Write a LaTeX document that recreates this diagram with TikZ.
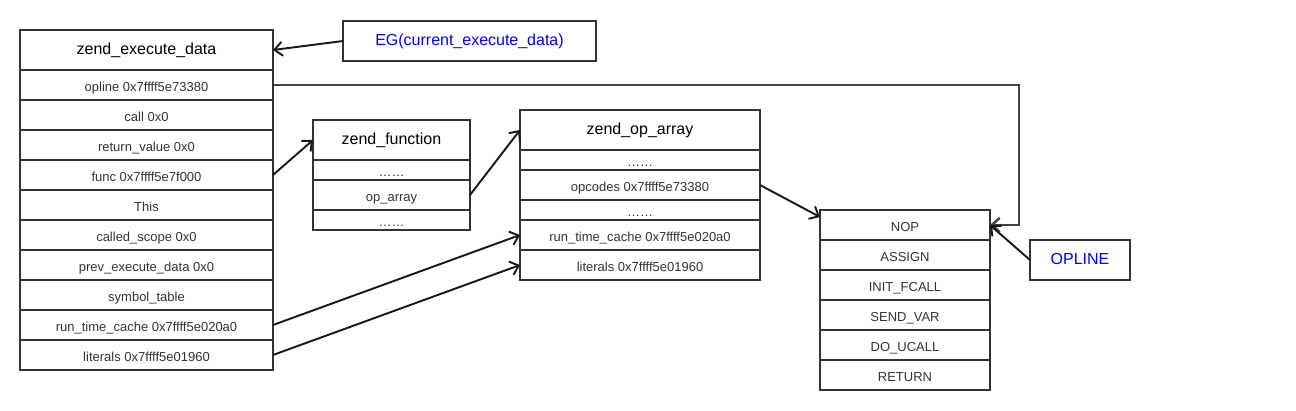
\documentclass[tikz,border=0pt]{standalone}
\usepackage{fontspec}
\setmainfont{Liberation Sans}
\usetikzlibrary{arrows.meta,positioning}
\definecolor{boxline}{RGB}{51,51,51}
\definecolor{celltext}{RGB}{51,51,51}
\definecolor{linkblue}{RGB}{0,0,255}
\definecolor{backlink}{RGB}{68,68,68}
\begin{document}
\begin{tikzpicture}[x=0.02cm,y=-0.02cm,
  cell/.style={draw=boxline,line width=1.1pt,inner sep=0pt,outer sep=0pt,
    text height=0.9em,text depth=0.184em,
    text=celltext,font=\fontsize{7.4}{9}\selectfont},
  head/.style={cell,text=black,text depth=0.4em,font=\fontsize{9.1}{11}\selectfont},
  ptr/.style={-{Straight Barb[length=4.5pt,width=8pt]},line width=1.1pt,black!90}]
  \useasboundingbox (0,0) rectangle (1296,410);
  % zend_execute_data
  \node[head,minimum width=5.06cm,minimum height=0.8cm] (ed0) at (146.5,50) {zend\_execute\_data};
  \foreach \t [count=\i] in {opline 0x7ffff5e73380,call 0x0,return\_value 0x0,
      func 0x7ffff5e7f000,This,called\_scope 0x0,prev\_execute\_data 0x0,
      symbol\_table,run\_time\_cache 0x7ffff5e020a0,literals 0x7ffff5e01960}
    \node[cell,minimum width=5.06cm,minimum height=0.6cm] (ed\i) at (146.5,{55+30*\i}) {\t};
  \node[head,text=linkblue,minimum width=5.06cm,minimum height=0.8cm] (eg) at (469.5,41) {EG(current\_execute\_data)};
  % zend_function
  \node[head,minimum width=3.14cm,minimum height=0.8cm] (zf0) at (391.5,140) {zend\_function};
  \node[cell,minimum width=3.14cm,minimum height=0.4cm] (zf1) at (391.5,170) {……};
  \node[cell,minimum width=3.14cm,minimum height=0.6cm] (zf2) at (391.5,195) {op\_array};
  \node[cell,minimum width=3.14cm,minimum height=0.4cm] (zf3) at (391.5,220) {……};
  % zend_op_array
  \node[head,minimum width=4.8cm,minimum height=0.8cm] (oa0) at (640,130) {zend\_op\_array};
  \node[cell,minimum width=4.8cm,minimum height=0.4cm] (oa1) at (640,160) {……};
  \node[cell,minimum width=4.8cm,minimum height=0.6cm] (oa2) at (640,185) {opcodes 0x7ffff5e73380};
  \node[cell,minimum width=4.8cm,minimum height=0.4cm] (oa3) at (640,210) {……};
  \node[cell,minimum width=4.8cm,minimum height=0.6cm] (oa4) at (640,235) {run\_time\_cache 0x7ffff5e020a0};
  \node[cell,minimum width=4.8cm,minimum height=0.6cm] (oa5) at (640,265) {literals 0x7ffff5e01960};
  % opcodes
  \foreach \t [count=\i] in {NOP,ASSIGN,INIT\_FCALL,SEND\_VAR,DO\_UCALL,RETURN}
    \node[cell,minimum width=3.4cm,minimum height=0.6cm] (op\i) at (905,{195+30*\i}) {\t};
  \node[head,text=linkblue,minimum width=2cm,minimum height=0.8cm] (opl) at (1080,260) {OPLINE};
  % pointers
  \coordinate (turn) at (1019,85);
  \draw[ptr,draw=backlink,line width=1.4pt] (ed1.east) -- (turn) |- (op1.east);
  \draw[ptr] (eg.west) -- (ed0.east);
  \draw[ptr] (ed4.east) -- (zf0.west);
  \draw[ptr] (zf2.east) -- (oa0.west);
  \draw[ptr] (oa2.east) -- ([yshift=-0.14cm]op1.north west);
  \draw[ptr] (ed9.east) -- (oa4.west);
  \draw[ptr] (ed10.east) -- (oa5.west);
  \draw[ptr] (opl.west) -- (op1.east);
\end{tikzpicture}
\end{document}
